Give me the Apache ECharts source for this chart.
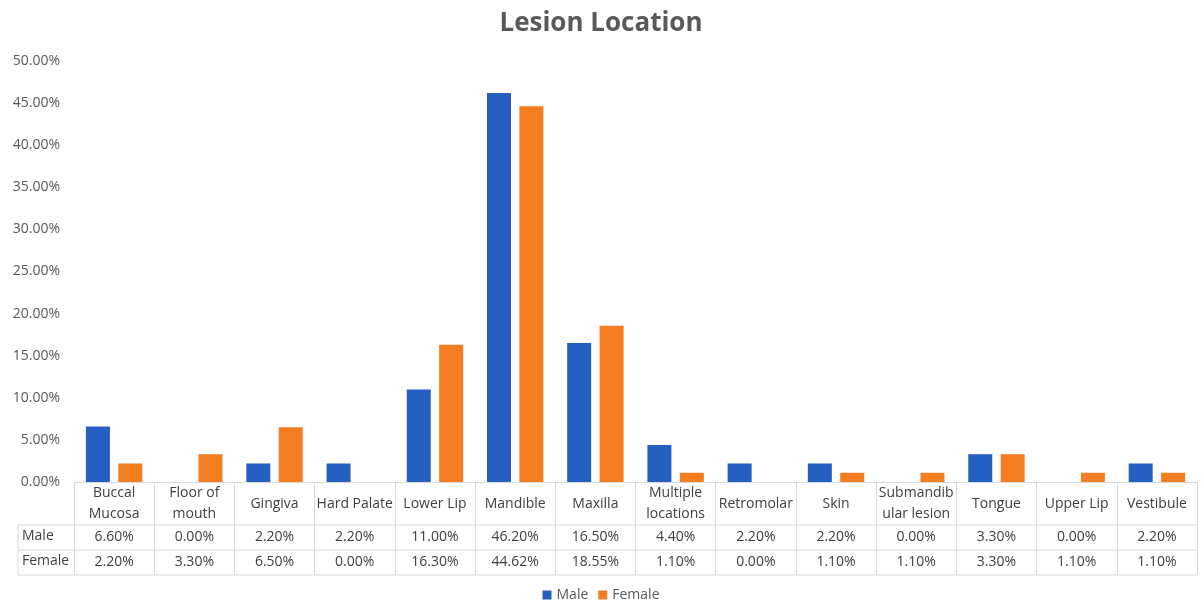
<!DOCTYPE html>
<html>
<head>
<meta charset="utf-8">
<title>Lesion Location</title>
<script src="https://cdn.jsdelivr.net/npm/echarts@6/dist/echarts.min.js"></script>
<style>
    html, body { margin: 0; padding: 0; background: #fff; }
    #chart { width: 1202px; height: 608px; }
</style>
</head>
<body>
<div id="chart"></div>
<script>
// categories (with the line breaks used in the table header)
const categories = [
    'Buccal\nMucosa', 'Floor of\nmouth', 'Gingiva', 'Hard Palate', 'Lower Lip',
    'Mandible', 'Maxilla', 'Multiple\nlocations', 'Retromolar', 'Skin',
    'Submandib\nular lesion', 'Tongue', 'Upper Lip', 'Vestibule'
]
const male = [6.6, 0, 2.2, 2.2, 11.0, 46.2, 16.5, 4.4, 2.2, 2.2, 0, 3.3, 0, 2.2]
const female = [2.2, 3.3, 6.5, 0, 16.3, 44.62, 18.55, 1.1, 0, 1.1, 1.1, 3.3, 1.1, 1.1]
const seriesNames = ['Male', 'Female']

// table geometry
const gridLeft = 74
const gridRight = 5
const gridTop = 61
const axisY = 482
const catRow = 43
const valRow = 25
const tableLeft = 18
const lineColor = '#d9d9d9'
const textColor = '#404040'
const font = 'Open Sans'

const pct = v => v.toFixed(2) + '%'

const chart = echarts.init(document.getElementById('chart'))

const option = {
    backgroundColor: '#fff',
    animation: false,
    title: {
        text: 'Lesion Location',
        left: 'center',
        top: 6,
        textStyle: {
            fontFamily: font,
            fontSize: 26,
            fontWeight: 'bold',
            color: '#595959'
        }
    },
    legend: {
        data: seriesNames,
        bottom: 1,
        left: 'center',
        icon: 'rect',
        itemWidth: 9,
        itemHeight: 9,
        itemGap: 10,
        textStyle: { fontFamily: font, fontSize: 14, color: '#595959' }
    },
    grid: {
        left: gridLeft,
        right: gridRight,
        top: gridTop,
        bottom: 608 - axisY,
        containLabel: false
    },
    xAxis: {
        type: 'category',
        data: categories,
        axisLine: { lineStyle: { color: lineColor, width: 1 } },
        axisTick: {
            show: true,
            interval: 0,
            length: catRow + valRow * 2,
            lineStyle: { color: lineColor, width: 1 }
        },
        axisLabel: {
            interval: 0,
            margin: 1,
            verticalAlign: 'top',
            formatter: (value, idx) => {
                const parts = value.split('\n')
                let head
                if (parts.length > 1) {
                    head = parts.map(p => '{cat2|' + p + '}').join('\n')
                } else {
                    head = '{cat1|' + value + '}'
                }
                return head + '\n{v|' + pct(male[idx]) + '}\n{v|' + pct(female[idx]) + '}'
            },
            rich: {
                cat1: { fontFamily: font, fontSize: 14, color: textColor, lineHeight: catRow - 1, height: catRow - 1 },
                cat2: { fontFamily: font, fontSize: 14, color: textColor, lineHeight: (catRow - 1) / 2, height: (catRow - 1) / 2 },
                v: { fontFamily: font, fontSize: 14, color: textColor, lineHeight: valRow, height: valRow }
            }
        },
        splitLine: { show: false }
    },
    yAxis: {
        type: 'value',
        min: 0,
        max: 50,
        interval: 5,
        axisLine: { show: false },
        axisTick: { show: false },
        splitLine: { show: false },
        axisLabel: {
            margin: 14,
            fontFamily: font,
            fontSize: 14,
            color: '#595959',
            formatter: v => pct(v)
        }
    },
    series: [
        {
            name: seriesNames[0],
            type: 'bar',
            data: male,
            barWidth: 24,
            barGap: '35%',
            itemStyle: { color: '#255fc2' }
        },
        {
            name: seriesNames[1],
            type: 'bar',
            data: female,
            barWidth: 24,
            itemStyle: { color: '#f47c21' }
        }
    ],
    graphic: [
        // table horizontal lines
        ...[catRow, catRow + valRow, catRow + valRow * 2].map(dy => ({
            type: 'line',
            shape: { x1: tableLeft, y1: axisY + dy, x2: 1202 - gridRight, y2: axisY + dy },
            style: { stroke: lineColor, lineWidth: 1 }
        })),
        // left border of row labels
        {
            type: 'line',
            shape: { x1: tableLeft, y1: axisY + catRow, x2: tableLeft, y2: axisY + catRow + valRow * 2 },
            style: { stroke: lineColor, lineWidth: 1 }
        },
        // row labels
        ...seriesNames.map((name, i) => ({
            type: 'text',
            left: tableLeft + 4,
            top: axisY + catRow + valRow * i + 4,
            style: {
                text: name,
                fontFamily: font,
                fontSize: 14,
                fill: textColor
            }
        }))
    ]
}

chart.setOption(option)
</script>
</body>
</html>
